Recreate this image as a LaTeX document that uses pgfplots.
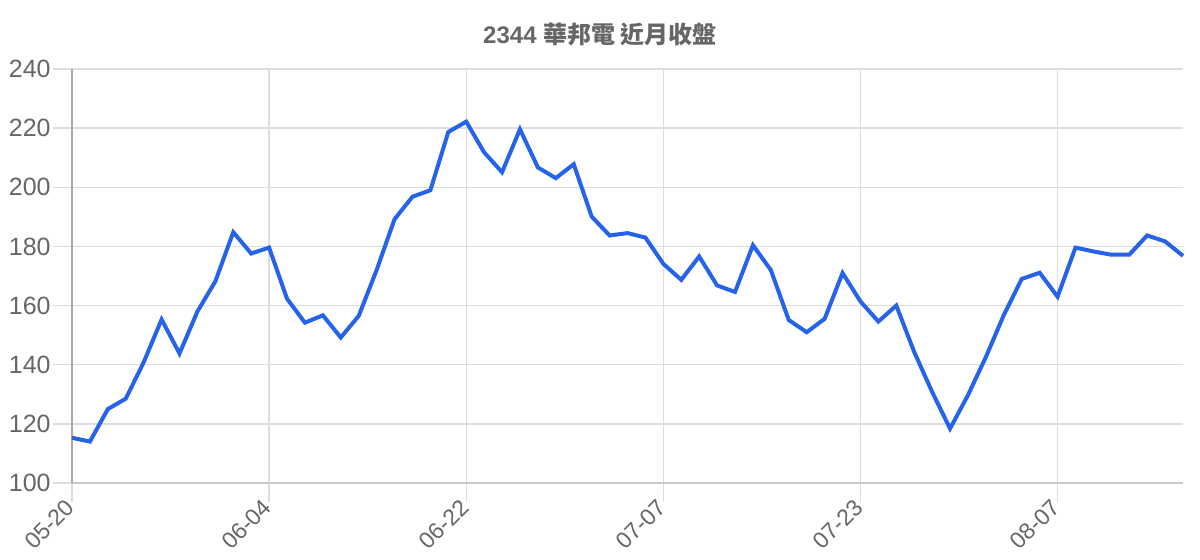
\documentclass[border=0pt]{standalone}
\usepackage{fontspec}
\setmainfont{Liberation Sans}
\newfontfamily\cjk{Noto Sans CJK TC}
\usepackage{pgfplots}
\pgfplotsset{compat=1.18}
\definecolor{txtgray}{HTML}{666666}
\definecolor{gridgray}{HTML}{DDDDDD}
\definecolor{axgray}{HTML}{AAAAAA}
\definecolor{linblue}{HTML}{2563EB}

\begin{document}
\begin{tikzpicture}
    % 1 px of the reference = 0.5pt
    \path[use as bounding box] (0,0) rectangle (600pt,280pt);
    \node[text=txtgray, font=\fontsize{12}{14}\selectfont\bfseries]
        at (300pt,262.5pt) {2344 {\cjk\bfseries 華邦電 近月收盤}};
    \begin{axis}[
        at={(36pt,38.5pt)},
        anchor=south west,
        scale only axis,
        width=555.5pt,
        height=207pt,
        xmin=0, xmax=62,
        ymin=100, ymax=240,
        ytick distance=20,
        xtick={0,11,22,33,44,55},
        xticklabels={05-20,06-04,06-22,07-07,07-23,08-07},
        axis x line*=bottom,
        axis y line*=left,
        x axis line style={draw=gridgray!80!gray, line width=0.75pt, -},
        y axis line style={draw=axgray, line width=0.8pt, -},
        grid=major,
        major grid style={draw=gridgray, line width=0.7pt},
        tick align=outside,
        major tick length=9.5pt,
        tick style={draw=gridgray, line width=0.7pt},
        ticklabel style={text=txtgray},
        xticklabel style={rotate=45, anchor=east, inner sep=1pt,
            font=\fontsize{11.5}{13}\selectfont},
        yticklabel style={inner sep=1pt, font=\fontsize{12.5}{14}\selectfont},
        /pgf/number format/assume math mode=true,
        clip=false,
    ]
        \addplot[linblue, line width=2pt, line join=miter, no marks] table {
            x y
            0 115.3
            1 114.0
            2 125.0
            3 128.5
            4 140.8
            5 155.3
            6 143.8
            7 158.0
            8 168.2
            9 184.8
            10 177.6
            11 179.6
            12 162.3
            13 154.2
            14 156.7
            15 149.2
            16 156.5
            17 172.0
            18 189.2
            19 196.8
            20 199.0
            21 218.7
            22 222.2
            23 211.8
            24 205.1
            25 219.6
            26 206.7
            27 203.1
            28 207.8
            29 190.1
            30 183.7
            31 184.5
            32 183.0
            33 174.1
            34 168.7
            35 176.6
            36 166.8
            37 164.6
            38 180.4
            39 172.0
            40 155.1
            41 151.0
            42 155.5
            43 171.0
            44 161.4
            45 154.6
            46 160.0
            47 144.3
            48 130.8
            49 118.4
            50 129.7
            51 142.6
            52 156.8
            53 169.0
            54 171.1
            55 163.0
            56 179.6
            57 178.3
            58 177.2
            59 177.2
            60 183.7
            61 181.7
            62 176.8
        };
    \end{axis}
\end{tikzpicture}
\end{document}
